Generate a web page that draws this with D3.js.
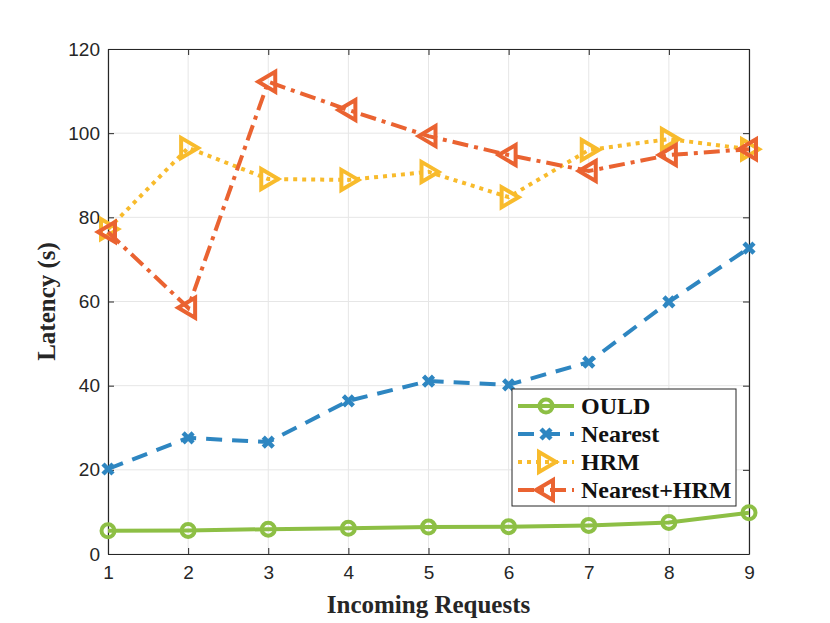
<!DOCTYPE html>
<html>
<head>
<meta charset="utf-8">
<script src="https://cdn.jsdelivr.net/npm/d3@7"></script>
<style>
  body { margin: 0; background: #fff; }
  svg { display: block; }
</style>
</head>
<body>
<svg id="chart" width="830" height="623"></svg>
<script>
// data
const requests = [1, 2, 3, 4, 5, 6, 7, 8, 9];
const ould = [5.5, 5.6, 5.9, 6.1, 6.4, 6.5, 6.8, 7.5, 9.8];
const nearest = [20.2, 27.6, 26.6, 36.4, 41.1, 40.2, 45.6, 59.9, 72.7];
const hrm = [77.2, 96.5, 89.1, 88.9, 90.8, 84.8, 96.0, 98.6, 96.2];
const nearestHrm = [76.5, 58.5, 112.2, 105.5, 99.3, 94.8, 91.0, 94.8, 96.2];
const yTicks = [0, 20, 40, 60, 80, 100, 120];

const series = [
  { name: "OULD", values: ould, color: "#8dbf45", dash: null, marker: "circle" },
  { name: "Nearest", values: nearest, color: "#2e86c1", dash: "16,10", marker: "x" },
  { name: "HRM", values: hrm, color: "#f8bb2c", dash: "4,5", marker: "right" },
  { name: "Nearest+HRM", values: nearestHrm, color: "#ea6331", dash: "16,6,4,6", marker: "left" }
];

const margin = { top: 49, right: 81, bottom: 69, left: 108 };
const width = 830, height = 623;
const w = width - margin.left - margin.right;
const h = height - margin.top - margin.bottom;

const svg = d3.select("#chart");
const g = svg.append("g").attr("transform", `translate(${margin.left},${margin.top})`);

const x = d3.scaleLinear().domain([1, 9]).range([0, w]);
const y = d3.scaleLinear().domain([0, 120]).range([h, 0]);

// сетка
g.append("g").selectAll("line").data(requests).join("line")
  .attr("x1", d => x(d)).attr("x2", d => x(d)).attr("y1", 0).attr("y2", h)
  .attr("stroke", "#e6e6e6").attr("stroke-width", 1);
g.append("g").selectAll("line").data(yTicks).join("line")
  .attr("x1", 0).attr("x2", w).attr("y1", d => y(d)).attr("y2", d => y(d))
  .attr("stroke", "#e6e6e6").attr("stroke-width", 1);

// оси
const axisColor = "#262626";
const xAxis = g.append("g").attr("transform", `translate(0,${h})`)
  .call(d3.axisBottom(x).tickValues(requests).tickFormat(d3.format("d")).tickSizeInner(-6).tickSizeOuter(0).tickPadding(12));
const yAxis = g.append("g")
  .call(d3.axisLeft(y).tickValues(yTicks).tickSizeInner(-6).tickSizeOuter(0).tickPadding(8));
const xTop = g.append("g")
  .call(d3.axisTop(x).tickValues(requests).tickFormat("").tickSizeInner(-6).tickSizeOuter(0));
const yRight = g.append("g").attr("transform", `translate(${w},0)`)
  .call(d3.axisRight(y).tickValues(yTicks).tickFormat("").tickSizeInner(-6).tickSizeOuter(0));

[xAxis, yAxis, xTop, yRight].forEach(a => {
  a.select(".domain").attr("stroke", axisColor).attr("stroke-width", 1.2);
  a.selectAll(".tick line").attr("stroke", axisColor);
  a.selectAll("text").attr("fill", axisColor)
    .style("font-family", "'Liberation Sans', Arial, sans-serif").style("font-size", "19px");
});

// линии
const line = d3.line().x((d, i) => x(requests[i])).y(d => y(d));

function drawMarker(sel, type, color, cx, cy) {
  if (type === "circle") {
    sel.append("circle").attr("cx", cx).attr("cy", cy).attr("r", 6.5)
      .attr("fill", "none").attr("stroke", color).attr("stroke-width", 4);
  } else if (type === "x") {
    const s = 5;
    sel.append("path")
      .attr("d", `M${cx - s},${cy - s}L${cx + s},${cy + s}M${cx - s},${cy + s}L${cx + s},${cy - s}`)
      .attr("stroke", color).attr("stroke-width", 4.5).attr("fill", "none");
  } else if (type === "right") {
    const s = 10;
    sel.append("path")
      .attr("d", `M${cx + s},${cy}L${cx - s * 0.7},${cy - s}L${cx - s * 0.7},${cy + s}Z`)
      .attr("stroke", color).attr("stroke-width", 4).attr("fill", "none");
  } else if (type === "left") {
    const s = 10;
    sel.append("path")
      .attr("d", `M${cx - s},${cy}L${cx + s * 0.7},${cy - s}L${cx + s * 0.7},${cy + s}Z`)
      .attr("stroke", color).attr("stroke-width", 4).attr("fill", "none");
  }
}

series.forEach(s => {
  g.append("path").datum(s.values)
    .attr("d", line)
    .attr("fill", "none")
    .attr("stroke", s.color)
    .attr("stroke-width", 4)
    .attr("stroke-dasharray", s.dash);
  const mg = g.append("g");
  s.values.forEach((v, i) => drawMarker(mg, s.marker, s.color, x(requests[i]), y(v)));
});

// подписи осей
svg.append("text")
  .attr("x", margin.left + w / 2).attr("y", 613)
  .attr("text-anchor", "middle")
  .style("font-family", "'Liberation Serif', 'Times New Roman', serif")
  .style("font-weight", "bold").style("font-size", "25px").attr("fill", axisColor)
  .text("Incoming Requests");
svg.append("text")
  .attr("transform", `translate(55,${margin.top + h / 2}) rotate(-90)`)
  .attr("text-anchor", "middle")
  .style("font-family", "'Liberation Serif', 'Times New Roman', serif")
  .style("font-weight", "bold").style("font-size", "25px").attr("fill", axisColor)
  .text("Latency (s)");

// легенда
const lg = svg.append("g").attr("transform", "translate(512,389)");
lg.append("rect").attr("width", 224).attr("height", 117)
  .attr("fill", "#fff").attr("stroke", axisColor).attr("stroke-width", 1);
series.forEach((s, i) => {
  const cy = 17 + i * 28;
  lg.append("line").attr("x1", 6).attr("x2", 62).attr("y1", cy).attr("y2", cy)
    .attr("stroke", s.color).attr("stroke-width", 4).attr("stroke-dasharray", s.dash);
  drawMarker(lg, s.marker, s.color, 34, cy);
  lg.append("text").attr("x", 69).attr("y", cy + 8)
    .style("font-family", "'Liberation Serif', 'Times New Roman', serif")
    .style("font-weight", "bold").style("font-size", "24px").attr("fill", "#111")
    .text(s.name);
});
</script>
</body>
</html>
